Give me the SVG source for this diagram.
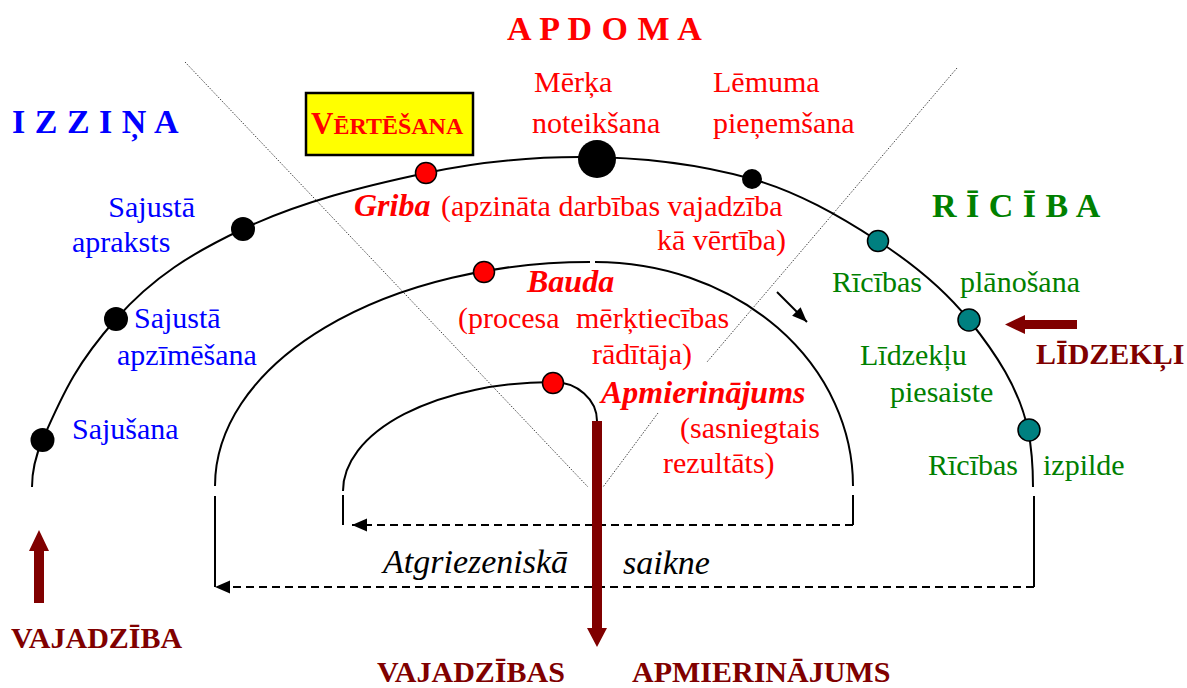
<svg xmlns="http://www.w3.org/2000/svg" width="1187" height="688" viewBox="0 0 1187 688">
<style>
text{font-family:"Liberation Serif","Times New Roman",serif;font-size:30px}
.red{fill:#ff0000}.blue{fill:#0000ff}.green{fill:#008000}.dred{fill:#800000}.blk{fill:#000}
.b{font-weight:bold}
.bi{font-weight:bold;font-style:italic;font-size:32px}
.it{font-style:italic;font-size:34px}
.title{font-weight:bold;font-size:34px;letter-spacing:0.5px}
.arc{fill:none;stroke:#000;stroke-width:2}
.dash{fill:none;stroke:#000;stroke-width:2;stroke-dasharray:8 5}
.dotted{fill:none;stroke:#444;stroke-width:1;stroke-dasharray:1.5 1.5}
.bdot{fill:#000}
.rdot{fill:#ff0000;stroke:#000;stroke-width:1.5}
.tdot{fill:#008080;stroke:#000;stroke-width:1.5}
.thick{fill:#800000}
</style>
<defs>
<marker id="arrowL" markerUnits="userSpaceOnUse" markerWidth="16" markerHeight="14" refX="15" refY="6.5" orient="auto"><path d="M0,0 L15,6.5 L0,13 Z" fill="#000"/></marker>
<marker id="arrowS" markerUnits="userSpaceOnUse" markerWidth="16" markerHeight="13" refX="15" refY="6" orient="auto"><path d="M0,0 L15,6 L0,12 Z" fill="#000"/></marker>
</defs>
<rect width="1187" height="688" fill="#fff"/>

<g id="guides">
<path class="dotted" d="M185 62 L588 487"/>
<path class="dotted" d="M957 68 L707 362 M658 413 L603 487"/>
</g>

<g id="connectors">
<path id="outer-arc" class="arc" d="M32 487 C32 471 36.1 454.7 42.5 440 C65.1 388.1 78.6 361.5 116 319 C153 277 192.3 252.9 243 229 C300.7 201.8 363.6 186.3 426 173 C476.5 162.2 528.4 157 580 157 C637.8 157 696.3 163.3 752 179 C797.1 191.7 838.8 215.5 878 241 C911.7 262.9 943.8 288.7 969 320 C995.3 352.6 1019.6 388.9 1028 430 C1031.8 448.6 1033 468 1033 487"/>
<path id="middle-arc" class="arc" d="M215 486 A375 224 0 0 1 590 262 M595 262 A258 224 0 0 1 853 486"/>
<path id="inner-arc" class="arc" d="M343 491 A210 109 0 0 1 553 382 A44 39 0 0 1 597 421"/>
<path class="arc" d="M215 496 V587 M1034 496 V587 M343 495 V525 M853 495 V525"/>
<path class="dash" d="M853 525 H352" marker-end="url(#arrowL)"/>
<path class="dash" d="M1034 587 H215" marker-end="url(#arrowL)"/>
<path class="arc" d="M777 292 L807 322" marker-end="url(#arrowS)"/>
<polygon class="thick" points="34,603 34,551 29,551 39,530 49,551 44,551 44,603"/>
<polygon class="thick" points="592,421 602,421 602,628 607,628 597,647 587,628 592,628"/>
<polygon class="thick" points="1077,320 1025,320 1025,315 1005,324.5 1025,334 1025,329 1077,329"/>
</g>

<g id="section-titles">
<text class="title red" x="507" y="40">A P D O M A</text>
<text class="title blue" x="12" y="133">I Z Z I Ņ A</text>
<text class="title green" x="932" y="217">R Ī C Ī B A</text>
</g>

<g id="vertesana">
<rect x="306" y="93" width="167" height="62" fill="#ffff00" stroke="#000" stroke-width="2.5"/>
<text class="red b" x="311" y="134"><tspan font-size="31">V</tspan><tspan font-size="24">ĒRTĒŠANA</tspan></text>
</g>

<g id="sajusta-apraksts">
<circle class="bdot" cx="243" cy="229" r="12"/>
<text class="blue" x="195" y="217" text-anchor="end">Sajustā</text>
<text class="blue" x="72" y="252">apraksts</text>
</g>
<g id="sajusta-apzimesana">
<circle class="bdot" cx="116" cy="319" r="12"/>
<text class="blue" x="134" y="328">Sajustā</text>
<text class="blue" x="117" y="365">apzīmēšana</text>
</g>
<g id="sajusana">
<circle class="bdot" cx="42.5" cy="440" r="12"/>
<text class="blue" x="72" y="439">Sajušana</text>
</g>

<g id="merka-noteiksana">
<circle class="bdot" cx="597" cy="159" r="19"/>
<text class="red" x="534" y="92">Mērķa</text>
<text class="red" x="532" y="133">noteikšana</text>
</g>
<g id="lemuma-pienemsana">
<circle class="bdot" cx="752" cy="179" r="10"/>
<text class="red" x="713" y="92">Lēmuma</text>
<text class="red" x="713" y="133">pieņemšana</text>
</g>

<g id="griba">
<circle class="rdot" cx="426" cy="173" r="10.5"/>
<text class="red bi" x="354" y="216">Griba</text>
<text class="red" x="441" y="216">(apzināta darbības vajadzība</text>
<text class="red" x="786" y="250" text-anchor="end">kā vērtība)</text>
</g>
<g id="bauda">
<circle class="rdot" cx="484" cy="272" r="10.5"/>
<text class="red bi" x="527" y="292">Bauda</text>
<text class="red" x="458" y="328">(procesa</text>
<text class="red" x="576" y="328">mērķtiecības</text>
<text class="red" x="592" y="364">rādītāja)</text>
</g>
<g id="apmierinajums">
<circle class="rdot" cx="553" cy="383" r="10.5"/>
<text class="red bi" x="601" y="403">Apmierinājums</text>
<text class="red" x="680" y="438">(sasniegtais</text>
<text class="red" x="663" y="473">rezultāts)</text>
</g>

<g id="ricibas-planosana">
<circle class="tdot" cx="878" cy="241" r="10.5" stroke="#2a8a2a"/>
<text class="green" x="832" y="292">Rīcības</text>
<text class="green" x="960" y="292">plānošana</text>
</g>
<g id="lidzeklu-piesaiste">
<circle class="tdot" cx="969" cy="320" r="11"/>
<text class="green" x="860" y="365">Līdzekļu</text>
<text class="green" x="890" y="402">piesaiste</text>
</g>
<g id="ricibas-izpilde">
<circle class="tdot" cx="1029" cy="430" r="11"/>
<text class="green" x="928" y="475">Rīcības</text>
<text class="green" x="1043" y="475">izpilde</text>
</g>

<g id="lidzekli"><text class="dred b" x="1036" y="364">LĪDZEKĻI</text></g>
<g id="vajadziba"><text class="dred b" x="11" y="648">VAJADZĪBA</text></g>
<g id="vajadzibas-apmierinajums">
<text class="dred b" x="377" y="682">VAJADZĪBAS</text>
<text class="dred b" x="632" y="682">APMIERINĀJUMS</text>
</g>
<g id="atgriezeniska-saikne">
<text class="blk it" x="383" y="573">Atgriezeniskā</text>
<text class="blk it" x="623" y="574">saikne</text>
</g>
</svg>
